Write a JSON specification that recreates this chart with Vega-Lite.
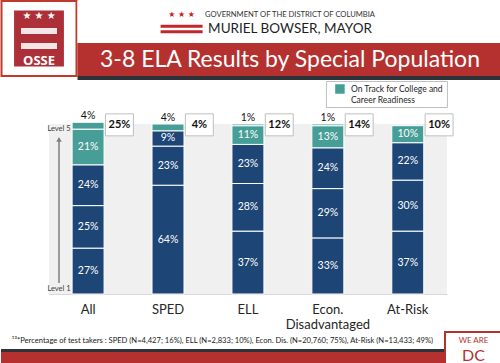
{
  "$schema": "https://vega.github.io/schema/vega-lite/v6.json",
  "padding": 0,
  "background": "white",
  "spacing": 0,
  "center": true,
  "resolve": {"scale": {"color": "independent"}, "legend": {"color": "independent"}},
  "config": {"view": {"stroke": null}, "concat": {"spacing": 0}, "font": "Lato", "text": {"font": "Lato"}},
  "vconcat": [
    {
      "spacing": 0,
      "hconcat": [
        {
          "width": 75, "height": 75,
          "view": {"fill": "#ffffff", "stroke": "#c0392b", "strokeWidth": 2},
          "layer": [
            {
              "data": {"values": [{"part": "logo"}]},
              "mark": {"type": "point", "shape": "M-0.89,-1H0.89V1H-0.89Z", "size": 3136, "filled": true, "color": "#ad2f37", "opacity": 1},
              "encoding": {}
            },
            {
              "data": {"values": [{"part": "b"}, {"part": "c"}]},
              "mark": {"type": "point", "shape": "M-1,-0.17H1V0.17H-1Z", "size": 1296, "filled": true, "color": "#f4e6e6", "opacity": 1},
              "encoding": {"y": {"field": "part", "type": "nominal", "scale": {"type": "point", "domain": ["a", "b", "c", "d"], "padding": 1.71}, "axis": null}}
            },
            {
              "data": {"values": [{"part": "a", "t": "★ ★ ★"}]},
              "mark": {"type": "text", "color": "white", "fontSize": 10, "font": "DejaVu Sans"},
              "encoding": {"y": {"field": "part", "type": "nominal", "scale": {"type": "point", "domain": ["a", "b", "c", "d"], "padding": 1.71}, "axis": null}, "text": {"field": "t"}}
            },
            {
              "data": {"values": [{"part": "d", "t": "OSSE"}]},
              "mark": {"type": "text", "color": "white", "fontSize": 13, "fontWeight": "bold", "font": "Open Sans"},
              "encoding": {"y": {"field": "part", "type": "nominal", "scale": {"type": "point", "domain": ["a", "b", "c", "d"], "padding": 1.71}, "axis": null}, "text": {"field": "t"}}
            }
          ]
        },
        {
          "spacing": 0,
          "vconcat": [
            {
              "width": 425, "height": 42,
              "view": {"fill": "#ffffff"},
              "encoding": {
                "x": {"field": "col", "type": "nominal", "scale": {"type": "point", "domain": ["flag", "text", "r"], "padding": 0.96}, "axis": null},
                "y": {"field": "row", "type": "nominal", "scale": {"type": "point", "domain": ["top", "bottom"], "padding": 1.6}, "axis": null}
              },
              "layer": [
                {
                  "data": {"values": [{"col": "text", "row": "top", "t": "GOVERNMENT OF THE DISTRICT OF COLUMBIA"}]},
                  "mark": {"type": "text", "fontSize": 7.6, "color": "#333333", "font": "Lato"},
                  "encoding": {"text": {"field": "t"}}
                },
                {
                  "data": {"values": [{"col": "text", "row": "bottom", "t": "MURIEL BOWSER, MAYOR"}]},
                  "mark": {"type": "text", "fontSize": 13.5, "color": "#1e1e1e", "font": "Lato"},
                  "encoding": {"text": {"field": "t"}}
                },
                {
                  "data": {"values": [{"col": "flag", "row": "top", "t": "★  ★  ★"}]},
                  "mark": {"type": "text", "fontSize": 8, "color": "#c1272d", "font": "DejaVu Sans"},
                  "encoding": {"text": {"field": "t"}}
                },
                {
                  "data": {"values": [{"col": "flag", "row": "bottom"}]},
                  "mark": {"type": "point", "shape": "M-1,-0.2H1V-0.06H-1ZM-1,0.06H1V0.2H-1Z", "size": 1764, "filled": true, "color": "#c1272d", "opacity": 1},
                  "encoding": {}
                }
              ]
            },
            {
              "width": 425, "height": 33,
              "view": {"fill": "#b5312f"},
              "data": {"values": [{"t": "3-8 ELA Results by Special Population"}]},
              "mark": {"type": "text", "color": "white", "fontSize": 23, "font": "Lato"},
              "encoding": {"text": {"field": "t"}}
            },
            {
              "width": 425, "height": 4,
              "view": {"fill": "#2e333a"},
              "data": {"values": []},
              "mark": "point",
              "encoding": {}
            }
          ]
        }
      ]
    },
    {
      "width": 398, "height": 170,
      "view": {"fill": "#f0f0f0", "stroke": null},
      "data": {"values": [
        {"cat": "All", "level": 1, "pct": 0.27, "status": "Not On Track"},
        {"cat": "All", "level": 2, "pct": 0.25, "status": "Not On Track"},
        {"cat": "All", "level": 3, "pct": 0.24, "status": "Not On Track"},
        {"cat": "All", "level": 4, "pct": 0.21, "status": "On Track for College and Career Readiness"},
        {"cat": "All", "level": 5, "pct": 0.04, "status": "On Track for College and Career Readiness"},
        {"cat": "SPED", "level": 1, "pct": 0.64, "status": "Not On Track"},
        {"cat": "SPED", "level": 2, "pct": 0.23, "status": "Not On Track"},
        {"cat": "SPED", "level": 3, "pct": 0.09, "status": "Not On Track"},
        {"cat": "SPED", "level": 4, "pct": 0.04, "status": "On Track for College and Career Readiness"},
        {"cat": "ELL", "level": 1, "pct": 0.37, "status": "Not On Track"},
        {"cat": "ELL", "level": 2, "pct": 0.28, "status": "Not On Track"},
        {"cat": "ELL", "level": 3, "pct": 0.23, "status": "Not On Track"},
        {"cat": "ELL", "level": 4, "pct": 0.11, "status": "On Track for College and Career Readiness"},
        {"cat": "ELL", "level": 5, "pct": 0.01, "status": "On Track for College and Career Readiness"},
        {"cat": "Econ. Disadvantaged", "level": 1, "pct": 0.33, "status": "Not On Track"},
        {"cat": "Econ. Disadvantaged", "level": 2, "pct": 0.29, "status": "Not On Track"},
        {"cat": "Econ. Disadvantaged", "level": 3, "pct": 0.24, "status": "Not On Track"},
        {"cat": "Econ. Disadvantaged", "level": 4, "pct": 0.13, "status": "On Track for College and Career Readiness"},
        {"cat": "Econ. Disadvantaged", "level": 5, "pct": 0.01, "status": "On Track for College and Career Readiness"},
        {"cat": "At-Risk", "level": 1, "pct": 0.37, "status": "Not On Track"},
        {"cat": "At-Risk", "level": 2, "pct": 0.30, "status": "Not On Track"},
        {"cat": "At-Risk", "level": 3, "pct": 0.22, "status": "Not On Track"},
        {"cat": "At-Risk", "level": 4, "pct": 0.10, "status": "On Track for College and Career Readiness"}
      ]},
      "layer": [
        {
          "mark": {"type": "bar", "stroke": "white", "strokeWidth": 1},
          "encoding": {
            "x": {"field": "cat", "type": "nominal", "title": null,
                  "scale": {"domain": ["All", "SPED", "ELL", "Econ. Disadvantaged", "At-Risk"], "paddingInner": 0.6, "paddingOuter": 0.29},
                  "axis": {"labelAngle": 0, "ticks": false, "domainColor": "#d9d9d9", "labelPadding": 9, "labelFontSize": 13, "labelColor": "#262626", "labelFont": "Lato", "labelLineHeight": 15,
                           "labelExpr": "datum.value == 'Econ. Disadvantaged' ? ['Econ.', 'Disadvantaged'] : datum.value"}},
            "y": {"field": "pct", "type": "quantitative", "stack": "zero", "scale": {"domain": [0, 1], "nice": false}, "axis": null},
            "order": {"field": "level", "type": "quantitative"},
            "color": {"field": "status", "type": "nominal",
                      "scale": {"domain": ["On Track for College and Career Readiness", "Not On Track"], "range": ["#479e97", "#1d4676"]},
                      "legend": {"values": ["On Track for College and Career Readiness"], "title": null, "orient": "none", "legendX": 277, "legendY": -43,
                                 "symbolType": "square", "symbolSize": 90, "symbolStrokeWidth": 0, "symbolOpacity": 1,
                                 "labelFontSize": 8.5, "labelColor": "#262626", "labelFont": "Lato",
                                 "labelExpr": "['On Track for College and', 'Career Readiness']",
                                 "strokeColor": "#bfbfbf", "fillColor": "white", "padding": 3, "symbolOffset": 6, "labelOffset": 6}}
          }
        },
        {
          "mark": {"type": "text", "color": "white", "fontSize": 10.5, "font": "Lato"},
          "encoding": {
            "x": {"field": "cat", "type": "nominal", "title": null, "scale": {"domain": ["All", "SPED", "ELL", "Econ. Disadvantaged", "At-Risk"], "paddingInner": 0.6, "paddingOuter": 0.29}},
            "y": {"field": "pct", "type": "quantitative", "stack": "zero", "bandPosition": 0.5, "axis": null},
            "order": {"field": "level", "type": "quantitative"},
            "text": {"condition": {"test": "datum.pct >= 0.05", "field": "pct", "type": "quantitative", "format": ".0%"}, "value": ""}
          }
        },
        {
          "mark": {"type": "text", "color": "#111111", "fontSize": 10.5, "font": "Lato", "baseline": "bottom", "dy": -1},
          "encoding": {
            "x": {"field": "cat", "type": "nominal", "title": null, "scale": {"domain": ["All", "SPED", "ELL", "Econ. Disadvantaged", "At-Risk"], "paddingInner": 0.6, "paddingOuter": 0.29}},
            "y": {"field": "pct", "type": "quantitative", "stack": "zero", "axis": null},
            "order": {"field": "level", "type": "quantitative"},
            "text": {"condition": {"test": "datum.pct < 0.05", "field": "pct", "type": "quantitative", "format": ".0%"}, "value": ""}
          }
        },
        {
          "data": {"values": [
            {"cat": "All", "ontrack": 0.25},
            {"cat": "SPED", "ontrack": 0.04},
            {"cat": "ELL", "ontrack": 0.12},
            {"cat": "Econ. Disadvantaged", "ontrack": 0.14},
            {"cat": "At-Risk", "ontrack": 0.10}
          ]},
          "layer": [
            {
              "mark": {"type": "point", "shape": "M-1.27,-1H1.27V1H-1.27Z", "size": 484, "filled": true, "fill": "white", "stroke": "#bfbfbf", "strokeWidth": 1, "opacity": 1},
              "encoding": {
                "x": {"field": "cat", "type": "nominal", "title": null, "bandPosition": 1.48, "scale": {"domain": ["All", "SPED", "ELL", "Econ. Disadvantaged", "At-Risk"], "paddingInner": 0.6, "paddingOuter": 0.29}},
                "y": {"datum": 0.995, "type": "quantitative", "axis": null}
              }
            },
            {
              "mark": {"type": "text", "color": "#111111", "fontSize": 11, "fontWeight": "bold", "font": "Lato"},
              "encoding": {
                "x": {"field": "cat", "type": "nominal", "title": null, "bandPosition": 1.48, "scale": {"domain": ["All", "SPED", "ELL", "Econ. Disadvantaged", "At-Risk"], "paddingInner": 0.6, "paddingOuter": 0.29}},
                "y": {"datum": 0.995, "type": "quantitative", "axis": null},
                "text": {"field": "ontrack", "type": "quantitative", "format": ".0%"}
              }
            }
          ]
        },
        {
          "data": {"values": [{"cat": "All"}]},
          "layer": [
            {
              "mark": {"type": "rule", "color": "#7f7f7f", "strokeWidth": 1.5},
              "encoding": {
                "x": {"field": "cat", "type": "nominal", "title": null, "bandPosition": -0.41, "scale": {"domain": ["All", "SPED", "ELL", "Econ. Disadvantaged", "At-Risk"], "paddingInner": 0.6, "paddingOuter": 0.29}},
                "y": {"datum": 0.065, "type": "quantitative", "axis": null},
                "y2": {"datum": 0.9}
              }
            },
            {
              "mark": {"type": "point", "shape": "triangle-up", "size": 30, "filled": true, "color": "#7f7f7f", "opacity": 1},
              "encoding": {
                "x": {"field": "cat", "type": "nominal", "title": null, "bandPosition": -0.41, "scale": {"domain": ["All", "SPED", "ELL", "Econ. Disadvantaged", "At-Risk"], "paddingInner": 0.6, "paddingOuter": 0.29}},
                "y": {"datum": 0.91, "type": "quantitative", "axis": null}
              }
            },
            {
              "mark": {"type": "text", "fontSize": 7.5, "color": "#404040", "font": "Lato"},
              "encoding": {
                "x": {"field": "cat", "type": "nominal", "title": null, "bandPosition": -0.41, "scale": {"domain": ["All", "SPED", "ELL", "Econ. Disadvantaged", "At-Risk"], "paddingInner": 0.6, "paddingOuter": 0.29}},
                "y": {"datum": 0.97, "type": "quantitative", "axis": null},
                "text": {"value": "Level 5"}
              }
            },
            {
              "mark": {"type": "text", "fontSize": 7.5, "color": "#404040", "font": "Lato"},
              "encoding": {
                "x": {"field": "cat", "type": "nominal", "title": null, "bandPosition": -0.41, "scale": {"domain": ["All", "SPED", "ELL", "Econ. Disadvantaged", "At-Risk"], "paddingInner": 0.6, "paddingOuter": 0.29}},
                "y": {"datum": 0.03, "type": "quantitative", "axis": null},
                "text": {"value": "Level 1"}
              }
            }
          ]
        }
      ]
    },
    {
      "spacing": 0,
      "hconcat": [
        {
          "spacing": 0,
          "vconcat": [
            {
              "width": 443, "height": 17,
              "data": {"values": [{"t": "¹³*Percentage of test takers : SPED (N=4,427; 16%), ELL (N=2,833; 10%), Econ. Dis. (N=20,760; 75%), At-Risk (N=13,433; 49%)"}]},
              "mark": {"type": "text", "fontSize": 7.6, "color": "#1a1a1a", "font": "Lato"},
              "encoding": {"text": {"field": "t"}}
            },
            {
              "width": 443, "height": 3,
              "view": {"fill": "#2e333a"},
              "data": {"values": []},
              "mark": "point",
              "encoding": {}
            },
            {
              "width": 443, "height": 13,
              "view": {"fill": "#b5312f"},
              "data": {"values": []},
              "mark": "point",
              "encoding": {}
            }
          ]
        },
        {
          "width": 57, "height": 33,
          "view": {"fill": "#ffffff", "stroke": "#b5312f", "strokeWidth": 2},
          "encoding": {"y": {"field": "row", "type": "nominal", "scale": {"type": "point", "domain": ["a", "b"], "padding": 0.6}, "axis": null}},
          "layer": [
            {
              "data": {"values": [{"row": "a", "t": "WE ARE"}]},
              "mark": {"type": "text", "fontSize": 8, "color": "#b5312f", "font": "Lato"},
              "encoding": {"text": {"field": "t"}}
            },
            {
              "data": {"values": [{"row": "b", "t": "DC"}]},
              "mark": {"type": "text", "fontSize": 16, "color": "#b5312f", "font": "Lato"},
              "encoding": {"text": {"field": "t"}}
            }
          ]
        }
      ]
    }
  ]
}
